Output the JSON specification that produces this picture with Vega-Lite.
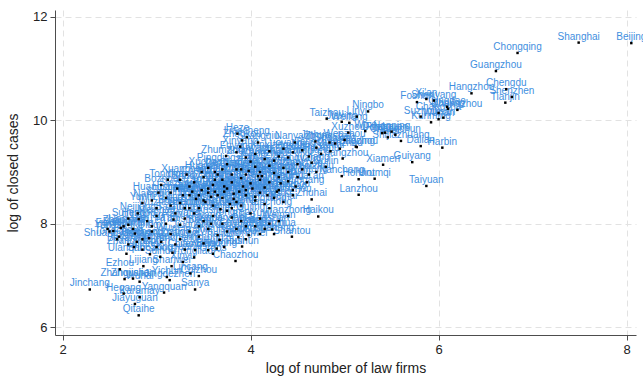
{
  "$schema": "https://vega.github.io/schema/vega-lite/v6.json",
  "width": 581,
  "height": 325,
  "autosize": "none",
  "padding": {"left": 55, "top": 10, "right": 7, "bottom": 41},
  "background": "white",
  "config": {"view": {"stroke": null}},
  "data": {"values": [
    {"city":"Beijing","x":8.05,"y":11.49},
    {"city":"Shanghai","x":7.49,"y":11.50},
    {"city":"Chongqing","x":6.84,"y":11.30},
    {"city":"Guangzhou","x":6.61,"y":10.95},
    {"city":"Hangzhou","x":6.35,"y":10.52},
    {"city":"Chengdu","x":6.72,"y":10.60},
    {"city":"Shenzhen","x":6.78,"y":10.45},
    {"city":"Tianjin","x":6.71,"y":10.34},
    {"city":"Foshan","x":5.77,"y":10.35},
    {"city":"Xi'an","x":5.87,"y":10.41},
    {"city":"Shenyang","x":5.95,"y":10.38},
    {"city":"Qingdao","x":6.09,"y":10.26},
    {"city":"Zhengzhou","x":6.20,"y":10.20},
    {"city":"Nanjing","x":6.10,"y":10.22},
    {"city":"Suzhou","x":5.81,"y":10.07},
    {"city":"Kunming","x":5.92,"y":9.96},
    {"city":"Wuhan","x":6.00,"y":10.02},
    {"city":"Changsha","x":6.00,"y":10.14},
    {"city":"Jinan","x":6.05,"y":10.05},
    {"city":"Ningbo","x":5.25,"y":10.17},
    {"city":"Linyi","x":5.13,"y":10.07},
    {"city":"Weifang","x":5.05,"y":9.95},
    {"city":"Taizhou","x":4.81,"y":10.03},
    {"city":"Jiaxing","x":4.97,"y":9.97},
    {"city":"Wuxi","x":5.22,"y":9.79},
    {"city":"Dongguan","x":5.43,"y":9.76},
    {"city":"Changchun","x":5.54,"y":9.72},
    {"city":"Hefei","x":5.46,"y":9.67},
    {"city":"Fuzhou","x":5.40,"y":9.75},
    {"city":"Nanning","x":5.50,"y":9.78},
    {"city":"Shijiazhuang","x":5.60,"y":9.60},
    {"city":"Dalian","x":5.81,"y":9.50},
    {"city":"Harbin","x":6.04,"y":9.47},
    {"city":"Xiamen","x":5.41,"y":9.14},
    {"city":"Guiyang","x":5.72,"y":9.19},
    {"city":"Taiyuan","x":5.87,"y":8.73},
    {"city":"Lanzhou","x":5.15,"y":8.56},
    {"city":"Urumqi","x":5.32,"y":8.87},
    {"city":"Hohhot","x":5.15,"y":8.86},
    {"city":"Nanchang","x":4.97,"y":8.92},
    {"city":"Changzhou","x":4.98,"y":9.26},
    {"city":"Baoding","x":5.13,"y":9.48},
    {"city":"Xuzhou","x":5.04,"y":9.76},
    {"city":"Zhongshan","x":4.84,"y":9.57},
    {"city":"Nanyang","x":4.47,"y":9.57},
    {"city":"Jinhua","x":4.69,"y":9.59},
    {"city":"Wenzhou","x":5.00,"y":9.62},
    {"city":"Yangzhou","x":5.12,"y":9.49},
    {"city":"Heze","x":3.86,"y":9.74},
    {"city":"Liaocheng","x":3.96,"y":9.67},
    {"city":"Zhoukou","x":3.91,"y":9.61},
    {"city":"Shangqiu","x":4.08,"y":9.57},
    {"city":"Xinyang","x":3.89,"y":9.49},
    {"city":"Zhumadian","x":3.74,"y":9.31},
    {"city":"Jinchang","x":2.29,"y":6.73},
    {"city":"Hegang","x":2.65,"y":6.65},
    {"city":"Karamay","x":2.82,"y":6.58},
    {"city":"Jiayuguan","x":2.77,"y":6.45},
    {"city":"Qitaihe","x":2.81,"y":6.23},
    {"city":"Yangquan","x":3.08,"y":6.67},
    {"city":"Sanya","x":3.41,"y":6.73},
    {"city":"Ezhou","x":2.61,"y":7.12},
    {"city":"Lijiang","x":2.86,"y":7.18},
    {"city":"Shanwei","x":3.16,"y":7.18},
    {"city":"Lincang","x":3.36,"y":7.04},
    {"city":"Chizhou","x":3.45,"y":6.99},
    {"city":"Zhangjiajie","x":2.66,"y":6.93},
    {"city":"Zhoushan","x":2.75,"y":6.94},
    {"city":"Wuhai","x":2.82,"y":6.88},
    {"city":"Yichun","x":3.11,"y":6.97},
    {"city":"Jingdezhen","x":3.14,"y":6.91},
    {"city":"Shantou","x":4.44,"y":7.75},
    {"city":"Chaozhou","x":3.84,"y":7.28},
    {"city":"Haikou","x":4.72,"y":8.14},
    {"city":"Panzhihua","x":4.23,"y":7.89},
    {"city":"Zhuhai","x":4.65,"y":8.47},
    {"city":"Xinyu","x":3.28,"y":7.26},
    {"city":"Hezhou","x":2.81,"y":8.09},
    {"city":"Lhasa","x":2.54,"y":7.86},
    {"city":"Shuangyashan","x":2.58,"y":7.70},
    {"city":"Jixi","x":2.77,"y":7.81},
    {"city":"Zhangjiakou","x":2.76,"y":7.55},
    {"city":"Qiqihar","x":2.79,"y":7.65},
    {"city":"Shuozhou","x":2.93,"y":7.41},
    {"city":"Suihua","x":3.04,"y":7.36},
    {"city":"Songyuan","x":3.17,"y":7.44},
    {"city":"Yingkou","x":3.87,"y":7.74},
    {"city":"Jinzhou","x":3.98,"y":7.78},
    {"city":"Anshan","x":4.10,"y":7.80},
    {"city":"Fushun","x":3.91,"y":7.56},
    {"city":"Dandong","x":3.64,"y":7.52},
    {"city":"Benxi","x":3.55,"y":7.49},
    {"city":"Liaoyang","x":3.41,"y":7.49},
    {"city":"Tieling","x":3.67,"y":7.69},
    {"city":"Baishan","x":2.62,"y":7.92},
    {"city":"Liaoyuan","x":2.70,"y":7.98},
    {"city":"Fuxin","x":2.48,"y":7.90},
    {"city":"Luoyang","x":4.35,"y":9.45},
    {"city":"Xinxiang","x":4.20,"y":9.40},
    {"city":"Anyang","x":4.05,"y":9.35},
    {"city":"Handan","x":4.45,"y":9.38},
    {"city":"Jining","x":4.55,"y":9.42},
    {"city":"Zhanjiang","x":4.62,"y":9.30},
    {"city":"Jiangmen","x":4.30,"y":9.30},
    {"city":"Huizhou","x":4.75,"y":9.35},
    {"city":"Zibo","x":4.25,"y":9.22},
    {"city":"Cangzhou","x":4.15,"y":9.25},
    {"city":"Tangshan","x":4.70,"y":9.47},
    {"city":"Yantai","x":4.85,"y":9.40},
    {"city":"Zhuzhou","x":3.95,"y":9.28},
    {"city":"Shaoxing","x":4.90,"y":9.55},
    {"city":"Zhangzhou","x":4.40,"y":9.28},
    {"city":"Quanzhou","x":4.95,"y":9.45},
    {"city":"Fuyang","x":3.85,"y":9.38},
    {"city":"Xuchang","x":3.55,"y":9.08},
    {"city":"Yulin","x":3.62,"y":9.00},
    {"city":"Pingdingshan","x":3.75,"y":9.15},
    {"city":"Jiaozuo","x":3.90,"y":9.05},
    {"city":"Zhaoqing","x":4.05,"y":9.10},
    {"city":"Mianyang","x":4.20,"y":9.12},
    {"city":"Jingzhou","x":4.35,"y":9.08},
    {"city":"Xiangyang","x":4.50,"y":9.15},
    {"city":"Yichang","x":4.65,"y":9.18},
    {"city":"Hengyang","x":4.10,"y":9.00},
    {"city":"Changde","x":3.95,"y":8.95},
    {"city":"Yueyang","x":4.25,"y":8.98},
    {"city":"Shangrao","x":4.40,"y":9.00},
    {"city":"Ganzhou","x":4.55,"y":9.05},
    {"city":"Liuzhou","x":4.70,"y":9.00},
    {"city":"Guilin","x":4.80,"y":9.10},
    {"city":"Luzhou","x":3.80,"y":8.95},
    {"city":"Zunyi","x":4.00,"y":9.20},
    {"city":"Dezhou","x":3.70,"y":9.05},
    {"city":"Yiyang","x":3.25,"y":8.85},
    {"city":"Shaoyang","x":3.40,"y":8.80},
    {"city":"Chenzhou","x":3.50,"y":8.90},
    {"city":"Yongzhou","x":3.60,"y":8.75},
    {"city":"Huaihua","x":3.70,"y":8.85},
    {"city":"Loudi","x":3.80,"y":8.80},
    {"city":"Xiangtan","x":3.90,"y":8.88},
    {"city":"Jiujiang","x":4.00,"y":8.78},
    {"city":"Ji'an","x":4.10,"y":8.85},
    {"city":"Pingxiang","x":4.20,"y":8.80},
    {"city":"Bengbu","x":4.30,"y":8.90},
    {"city":"Anqing","x":4.40,"y":8.82},
    {"city":"Wuhu","x":4.50,"y":8.90},
    {"city":"Lu'an","x":3.35,"y":8.72},
    {"city":"Suqian","x":3.55,"y":8.68},
    {"city":"Huai'an","x":4.60,"y":8.80},
    {"city":"Yancheng","x":4.15,"y":8.70},
    {"city":"Zhenjiang","x":3.75,"y":8.68},
    {"city":"Chuzhou","x":3.95,"y":8.65},
    {"city":"Bozhou","x":3.05,"y":8.75},
    {"city":"Huainan","x":3.15,"y":8.60},
    {"city":"Ma'anshan","x":3.45,"y":8.55},
    {"city":"Huzhou","x":4.45,"y":8.65},
    {"city":"Lishui","x":3.65,"y":8.55},
    {"city":"Nanping","x":2.95,"y":8.45},
    {"city":"Sanming","x":3.10,"y":8.50},
    {"city":"Longyan","x":3.25,"y":8.40},
    {"city":"Ningde","x":3.35,"y":8.55},
    {"city":"Putian","x":3.50,"y":8.45},
    {"city":"Meizhou","x":3.60,"y":8.35},
    {"city":"Shaoguan","x":3.70,"y":8.50},
    {"city":"Heyuan","x":3.85,"y":8.42},
    {"city":"Qingyuan","x":3.95,"y":8.55},
    {"city":"Maoming","x":4.05,"y":8.45},
    {"city":"Yangjiang","x":4.15,"y":8.38},
    {"city":"Jieyang","x":4.25,"y":8.50},
    {"city":"Yunfu","x":2.85,"y":8.40},
    {"city":"Beihai","x":4.35,"y":8.42},
    {"city":"Qinzhou","x":4.45,"y":8.55},
    {"city":"Wuzhou","x":3.00,"y":8.30},
    {"city":"Baise","x":3.15,"y":8.35},
    {"city":"Hechi","x":3.30,"y":8.30},
    {"city":"Guigang","x":3.45,"y":8.30},
    {"city":"Laibin","x":3.80,"y":8.30},
    {"city":"Chongzuo","x":3.55,"y":8.60},
    {"city":"Zigong","x":3.90,"y":8.35},
    {"city":"Yibin","x":4.10,"y":8.60},
    {"city":"Nanchong","x":4.20,"y":8.30},
    {"city":"Dazhou","x":4.30,"y":8.65},
    {"city":"Suining","x":2.70,"y":8.10},
    {"city":"Neijiang","x":2.80,"y":8.20},
    {"city":"Leshan","x":2.90,"y":8.05},
    {"city":"Meishan","x":3.00,"y":8.15},
    {"city":"Ya'an","x":3.10,"y":8.00},
    {"city":"Bazhong","x":3.20,"y":8.20},
    {"city":"Ziyang","x":3.30,"y":8.10},
    {"city":"Guangyuan","x":3.40,"y":8.20},
    {"city":"Deyang","x":3.50,"y":8.05},
    {"city":"Anshun","x":3.60,"y":8.15},
    {"city":"Liupanshui","x":3.70,"y":8.00},
    {"city":"Tongren","x":3.80,"y":8.12},
    {"city":"Bijie","x":3.90,"y":8.05},
    {"city":"Qujing","x":4.00,"y":8.20},
    {"city":"Yuxi","x":4.10,"y":8.10},
    {"city":"Baoshan","x":4.20,"y":8.00},
    {"city":"Zhaotong","x":2.65,"y":7.95},
    {"city":"Pu'er","x":2.95,"y":7.95},
    {"city":"Tianshui","x":3.25,"y":7.98},
    {"city":"Baoji","x":3.45,"y":7.95},
    {"city":"Xianyang","x":3.95,"y":7.95},
    {"city":"Weinan","x":4.30,"y":8.05},
    {"city":"Hanzhong","x":4.40,"y":8.15},
    {"city":"Ankang","x":3.75,"y":8.25},
    {"city":"Shangluo","x":3.35,"y":8.30},
    {"city":"Yan'an","x":2.50,"y":7.85},
    {"city":"Tongchuan","x":2.60,"y":7.75},
    {"city":"Pingliang","x":2.75,"y":7.90},
    {"city":"Qingyang","x":2.85,"y":7.70},
    {"city":"Dingxi","x":2.95,"y":7.85},
    {"city":"Longnan","x":3.05,"y":7.65},
    {"city":"Wuwei","x":3.15,"y":7.80},
    {"city":"Zhangye","x":3.25,"y":7.70},
    {"city":"Jiuquan","x":3.35,"y":7.85},
    {"city":"Baiyin","x":3.45,"y":7.75},
    {"city":"Xining","x":3.55,"y":7.90},
    {"city":"Shizuishan","x":3.65,"y":7.78},
    {"city":"Wuzhong","x":3.75,"y":7.85},
    {"city":"Guyuan","x":3.85,"y":7.90},
    {"city":"Zhongwei","x":3.95,"y":7.70},
    {"city":"Datong","x":4.05,"y":7.95},
    {"city":"Changzhi","x":4.15,"y":7.90},
    {"city":"Jincheng","x":4.25,"y":7.80},
    {"city":"Jinzhong","x":3.50,"y":7.62},
    {"city":"Yuncheng","x":3.20,"y":7.60},
    {"city":"Linfen","x":3.00,"y":7.55},
    {"city":"Lüliang","x":2.85,"y":7.50},
    {"city":"Chifeng","x":3.30,"y":7.50},
    {"city":"Tongliao","x":3.40,"y":7.35},
    {"city":"Ordos","x":3.60,"y":7.42},
    {"city":"Hulunbuir","x":3.72,"y":7.55},
    {"city":"Bayannur","x":2.70,"y":7.60},
    {"city":"Ulanqab","x":2.68,"y":7.42},
    {"city":"Xingtai","x":3.98,"y":9.02},
    {"city":"Hengshui","x":3.65,"y":8.95},
    {"city":"Langfang","x":4.12,"y":8.92},
    {"city":"Qinhuangdao","x":4.28,"y":8.62},
    {"city":"Chengde","x":3.58,"y":8.52},
    {"city":"Dongying","x":4.05,"y":8.52},
    {"city":"Binzhou","x":3.88,"y":8.62},
    {"city":"Tai'an","x":4.32,"y":8.78},
    {"city":"Zaozhuang","x":3.92,"y":8.72},
    {"city":"Rizhao","x":3.72,"y":8.62},
    {"city":"Weihai","x":4.18,"y":8.55},
    {"city":"Lianyungang","x":4.48,"y":8.72},
    {"city":"Nantong","x":4.62,"y":8.95},
    {"city":"Sanmenxia","x":3.48,"y":8.65},
    {"city":"Hebi","x":3.28,"y":8.55},
    {"city":"Luohe","x":3.38,"y":8.62},
    {"city":"Puyang","x":3.62,"y":8.85},
    {"city":"Kaifeng","x":4.08,"y":8.92},
    {"city":"Xiaogan","x":3.82,"y":8.58},
    {"city":"Huanggang","x":4.02,"y":8.68},
    {"city":"Xianning","x":3.72,"y":8.72},
    {"city":"Huangshi","x":3.52,"y":8.42},
    {"city":"Jingmen","x":3.42,"y":8.48},
    {"city":"Shiyan","x":3.82,"y":8.48},
    {"city":"Suizhou","x":3.22,"y":8.68},
    {"city":"Enshi","x":3.62,"y":8.62},
    {"city":"Huangshan","x":3.02,"y":8.60},
    {"city":"Xuancheng","x":3.32,"y":8.95},
    {"city":"Tongling","x":3.12,"y":8.85},
    {"city":"Huaibei","x":3.48,"y":9.00},
    {"city":"Quzhou","x":3.85,"y":9.05},
    {"city":"Fangchenggang","x":2.92,"y":7.72},
    {"city":"Yining","x":3.78,"y":8.38},
    {"city":"Kashgar","x":3.68,"y":8.28},
    {"city":"Hami","x":3.18,"y":8.08},
    {"city":"Korla","x":3.58,"y":8.00}
  ]},
  "encoding": {
    "x": {"field": "x", "type": "quantitative",
      "scale": {"domain": [1.92, 8.1], "nice": false, "zero": false},
      "axis": {"title": "log of number of law firms", "values": [2, 4, 6, 8], "grid": true, "gridDash": [6, 4], "gridColor": "#e2e2e2",
        "domainColor": "#4d4d4d", "tickColor": "#4d4d4d", "tickSize": 5, "labelFontSize": 13, "titleFontSize": 14, "titleFontWeight": "normal",
        "labelFont": "Liberation Sans", "titleFont": "Liberation Sans", "labelColor": "#222", "titleColor": "#222", "labelPadding": 3, "titlePadding": 5}},
    "y": {"field": "y", "type": "quantitative",
      "scale": {"domain": [5.85, 12.13], "nice": false, "zero": false},
      "axis": {"title": "log of closed cases", "values": [6, 8, 10, 12], "grid": true, "gridDash": [6, 4], "gridColor": "#e2e2e2",
        "domainColor": "#4d4d4d", "tickColor": "#4d4d4d", "tickSize": 5, "labelFontSize": 13, "titleFontSize": 14, "titleFontWeight": "normal",
        "labelFont": "Liberation Sans", "titleFont": "Liberation Sans", "labelColor": "#222", "titleColor": "#222", "labelPadding": 3, "titlePadding": 12}}
  },
  "layer": [
    {"mark": {"type": "text", "dy": -6, "fontSize": 10, "font": "Liberation Sans", "color": "#3f8fe0", "align": "center", "baseline": "middle"},
     "encoding": {"text": {"field": "city", "type": "nominal"}}},
    {"mark": {"type": "square", "size": 6, "color": "black", "filled": true, "opacity": 1}}
  ]
}
